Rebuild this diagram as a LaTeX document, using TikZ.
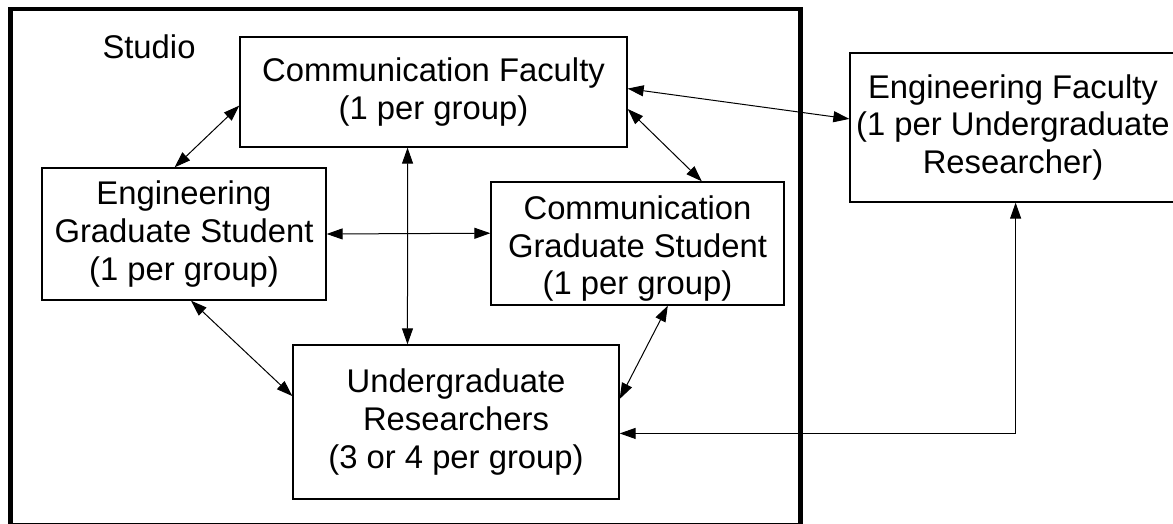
\documentclass[tikz,border=0pt]{standalone}
\usepackage{fontspec}
\setmainfont{Liberation Sans}
\usetikzlibrary{arrows.meta}

\begin{document}
\begin{tikzpicture}[x=0.5pt,y=-0.5pt,
 font=\fontsize{16.4pt}{18.8pt}\selectfont,
 box/.style={draw,line width=0.65pt,inner sep=0pt,align=center},
 link/.style={line width=0.5pt,
   {Triangle[length=8pt,width=5.5pt]}-{Triangle[length=8pt,width=5.5pt]}}]

  \useasboundingbox (0,0) rectangle (1173,524);

  % the studio frame
  \draw[line width=2.15pt] (10.5,9) rectangle (800.5,525);
  \node (studio) at (149,47) {Studio};

  \node[box,minimum width=193.5pt,minimum height=55pt] (cf) at (433.5,92)
    {Communication Faculty\\(1 per group)};
  \node[box,minimum width=142pt,minimum height=66pt] (egs) at (184,234)
    {Engineering\\Graduate Student\\(1 per group)};
  % text sits a little low in this one
  \node[box,minimum width=146.5pt,minimum height=61.5pt] (cgs) at (637.5,243.5)
    {\rule{0pt}{17pt}Communication\\Graduate Student\\(1 per group)};
  \node[box,minimum width=163pt,minimum height=77pt] (ur) at (456,422)
    {Undergraduate\\Researchers\\(3 or 4 per group)};
  \node[box,minimum width=163pt,minimum height=74.5pt] (ef) at (1013,127.5)
    {Engineering Faculty\\(1 per Undergraduate\\Researcher)};

  \foreach \s/\t in {cf.184/egs.98, cf.1/ef.177, cf.355/cgs.44,
                     cf.245/ur.122, egs.east/cgs.176, egs.276/ur.171,
                     cgs.296/ur.8} {
   \draw[link] (\s) -- (\t);}

  \draw[link] (ur.356) -| (ef.272);

\end{tikzpicture}
\end{document}
